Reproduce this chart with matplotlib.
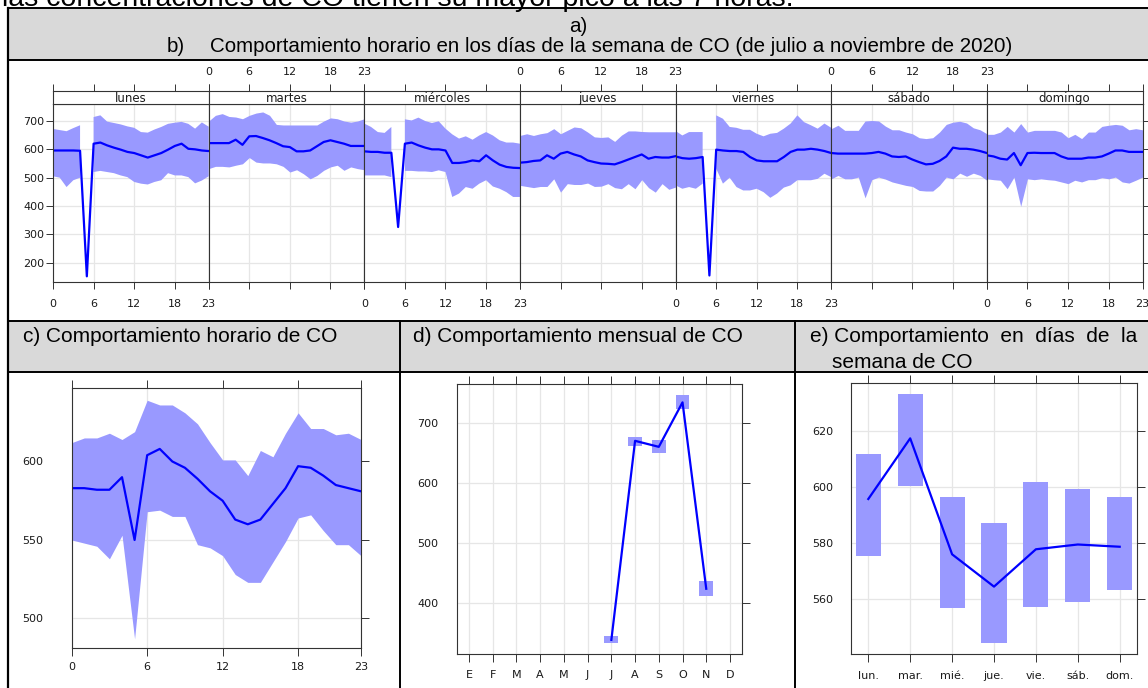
import numpy as np
import matplotlib
matplotlib.use('Agg')
from matplotlib import pyplot as plt
from matplotlib.patches import Rectangle

# figure size in pixels
W, H = 1148, 688
plt.rcParams['font.family'] = ['Liberation Sans', 'DejaVu Sans']

# ---- data ----
horas = list(range(24))
nan = np.nan

# b) hourly CO per weekday: mean, upper and lower band
lun_mean = [596, 596, 596, 596, 595, 152, 620, 624, 614, 606, 599, 591, 587, 579, 571, 579, 587, 599, 612, 620, 602, 600, 596, 594]
lun_hi = [672, 668, 664, 675, 685, nan, 714, 720, 698, 693, 688, 681, 676, 661, 659, 670, 679, 690, 694, 697, 690, 673, 695, 680]
lun_lo = [505, 500, 467, 491, 500, nan, 520, 524, 520, 516, 508, 502, 485, 479, 476, 485, 491, 516, 508, 508, 502, 480, 490, 505]

mar_mean = [622, 622, 622, 622, 634, 616, 646, 647, 640, 632, 622, 611, 608, 593, 593, 596, 611, 626, 632, 626, 620, 612, 612, 612]
mar_hi = [700, 720, 726, 716, 714, 708, 720, 728, 732, 720, 688, 686, 686, 686, 686, 686, 686, 700, 711, 708, 700, 696, 700, 708]
mar_lo = [532, 540, 540, 538, 544, 549, 571, 555, 552, 552, 549, 540, 520, 528, 514, 496, 508, 526, 538, 544, 526, 538, 532, 528]

mie_mean = [593, 591, 591, 588, 588, 326, 620, 624, 614, 606, 600, 600, 596, 552, 552, 555, 561, 558, 579, 561, 546, 538, 535, 534]
mie_hi = [691, 679, 661, 658, 679, nan, 706, 702, 712, 700, 693, 699, 673, 653, 638, 646, 634, 649, 661, 649, 632, 624, 624, 620]
mie_lo = [508, 508, 508, 508, 502, nan, 524, 524, 522, 522, 520, 526, 520, 432, 444, 467, 461, 479, 491, 469, 461, 449, 432, 432]

jue_mean = [553, 555, 559, 561, 579, 567, 585, 591, 582, 575, 561, 555, 550, 549, 547, 555, 564, 573, 582, 567, 573, 571, 571, 576]
jue_hi = [649, 655, 649, 655, 659, 673, 655, 667, 679, 676, 661, 644, 642, 644, 628, 650, 665, 665, 663, 662, 662, 662, 662, 662]
jue_lo = [473, 469, 465, 469, 469, 496, 449, 479, 476, 476, 481, 469, 470, 479, 465, 461, 479, 461, 493, 465, 449, 479, 459, 467]

vie_mean = [575, 569, 567, 569, 573, 155, 599, 596, 594, 594, 591, 573, 561, 558, 558, 558, 573, 591, 599, 599, 602, 599, 594, 587]
vie_hi = [665, 649, 661, 661, 661, nan, 720, 708, 679, 676, 669, 669, 655, 646, 655, 658, 673, 691, 720, 696, 685, 673, 691, 676]
vie_lo = [473, 461, 467, 461, 479, nan, 532, 479, 500, 467, 455, 455, 461, 449, 429, 444, 465, 473, 491, 491, 491, 496, 514, 502]

sab_mean = [587, 585, 585, 585, 585, 585, 587, 591, 585, 575, 573, 575, 564, 555, 547, 549, 559, 575, 606, 602, 602, 599, 594, 587]
sab_hi = [673, 685, 667, 667, 667, 700, 702, 700, 682, 669, 669, 661, 655, 641, 638, 641, 661, 688, 696, 699, 693, 676, 669, 655]
sab_lo = [496, 508, 496, 496, 502, 429, 493, 502, 495, 485, 479, 473, 469, 455, 453, 453, 473, 502, 496, 516, 505, 516, 508, 491]

dom_mean = [579, 575, 567, 564, 587, 544, 587, 588, 587, 587, 587, 575, 567, 567, 567, 571, 571, 575, 585, 596, 596, 591, 591, 591]
dom_hi = [653, 653, 661, 681, 661, 691, 661, 667, 667, 667, 667, 661, 641, 653, 638, 661, 661, 681, 685, 688, 685, 669, 673, 669]
dom_lo = [496, 493, 491, 461, 502, 399, 496, 493, 496, 493, 491, 485, 479, 491, 485, 493, 493, 500, 496, 502, 485, 481, 491, 502]

dias = ['lunes', 'martes', 'miércoles', 'jueves', 'viernes', 'sábado', 'domingo']

# c) hourly CO
hora_mean = [583, 583, 582, 582, 590, 550, 604, 608, 600, 596, 589, 581, 575, 563, 560, 563, 573, 583, 597, 596, 591, 585, 583, 581]
hora_hi = [612, 615, 615, 618, 614, 619, 639, 636, 636, 631, 624, 612, 601, 601, 591, 607, 603, 618, 631, 621, 621, 617, 618, 614]
hora_lo = [550, 548, 546, 538, 553, 487, 568, 569, 565, 565, 547, 545, 540, 528, 523, 523, 536, 549, 564, 566, 556, 547, 547, 540]

# d) monthly CO (julio..noviembre)
meses = ['E', 'F', 'M', 'A', 'M', 'J', 'J', 'A', 'S', 'O', 'N', 'D']
mes_num = [7, 8, 9, 10, 11]
mes_mean = [339, 670, 660, 734, 424]
mes_hi = [346, 677, 671, 746, 437]
mes_lo = [333, 662, 649, 723, 412]

# e) weekday CO
dias_corto = ['lun.', 'mar.', 'mié.', 'jue.', 'vie.', 'sáb.', 'dom.']
sem_mean = [595.7, 617.3, 576.0, 564.5, 577.8, 579.5, 578.7]
sem_hi = [611.6, 633.0, 596.3, 587.3, 601.9, 599.4, 596.3]
sem_lo = [575.5, 600.3, 556.8, 544.3, 557.1, 558.9, 563.3]

# ---- style ----
fill_col = '#9999ff'
line_col = '#0000ff'
grid_col = '#e6e6e6'
frame_col = '#333333'
tick_col = '#1a1a1a'
head_col = '#d9d9d9'
tick_font = 'DejaVu Sans'


def box(x0, y0, x1, y1):
    # pixel box (top-left origin) -> figure fraction
    return [x0 / W, 1 - y1 / H, (x1 - x0) / W, (y1 - y0) / H]


def frame(ax, lw=0.8):
    for s in ax.spines.values():
        s.set_color(frame_col)
        s.set_linewidth(lw)


def tick_fonts(ax, size):
    for lab in ax.get_xticklabels() + ax.get_yticklabels():
        lab.set_fontfamily(tick_font)
        lab.set_fontsize(size)


fig = plt.figure(figsize=(W / 100, H / 100), dpi=100)

# background: table cells, borders and texts (pixel coordinates)
bg = fig.add_axes([0, 0, 1, 1])
bg.set_zorder(-1)
bg.set_xlim(0, W)
bg.set_ylim(H, 0)
bg.axis('off')
bg.add_patch(Rectangle((8, 8), W - 8, 52, fc=head_col, ec='none'))
bg.add_patch(Rectangle((8, 321), W - 8, 51, fc=head_col, ec='none'))
for yy in [8, 60, 321, 372]:
    bg.plot([8, W], [yy, yy], color='black', lw=1.4, solid_capstyle='butt')
bg.plot([8, 8], [8, H], color='black', lw=1.6)
bg.plot([400, 400], [321, H], color='black', lw=1.4)
bg.plot([795, 795], [321, H], color='black', lw=1.4)

bg.text(2, 5.7, 'las concentraciones de CO tienen su mayor pico a las 7 horas.',
        fontsize=20.5, va='baseline', ha='left')
bg.text(578, 27, 'a)', fontsize=14.8, ha='center', va='center')
bg.text(167, 46, 'b)', fontsize=14.8, ha='left', va='center')
bg.text(210, 46, 'Comportamiento horario en los días de la semana de CO (de julio a noviembre de 2020)',
        fontsize=14.8, ha='left', va='center')
bg.text(23, 342, 'c) Comportamiento horario de CO', fontsize=15, va='baseline')
bg.text(413, 342, 'd) Comportamiento mensual de CO', fontsize=15, va='baseline')
bg.text(810, 342, 'e) Comportamiento  en  días  de  la', fontsize=15, va='baseline')
bg.text(832, 367.5, 'semana de CO', fontsize=15, va='baseline')

# ---- b) one panel per weekday ----
b_mean = [lun_mean, mar_mean, mie_mean, jue_mean, vie_mean, sab_mean, dom_mean]
b_hi = [lun_hi, mar_hi, mie_hi, jue_hi, vie_hi, sab_hi, dom_hi]
b_lo = [lun_lo, mar_lo, mie_lo, jue_lo, vie_lo, sab_lo, dom_lo]
xb0, xb1 = 53, 1142.5
dw = (xb1 - xb0) / 7
for i in range(7):
    left, right = xb0 + i * dw, xb0 + (i + 1) * dw
    ax = fig.add_axes(box(left, 104, right, 282))
    ax.fill_between(horas, b_lo[i], b_hi[i], color=fill_col, lw=0)
    ax.plot(horas, b_mean[i], color=line_col, lw=1.6)
    ax.set_xlim(0, 23)
    ax.set_ylim(132, 760)
    ax.set_xticks([0, 6, 12, 18, 23])
    ax.set_yticks(range(200, 800, 100))
    ax.grid(color=grid_col, lw=0.9)
    ax.set_axisbelow(True)
    frame(ax)
    ax.tick_params(axis='x', direction='out', length=5, width=0.7, color=frame_col,
                   labelcolor=tick_col, pad=7.5, labelbottom=(i % 2 == 0))
    ax.tick_params(axis='y', direction='out', length=5, width=0.7, color=frame_col,
                   labelcolor=tick_col, pad=1,
                   left=(i == 0), labelleft=(i == 0), right=(i == 6))
    tick_fonts(ax, 8)
    # strip with day name
    st = fig.add_axes(box(left, 91, right, 104))
    st.set_xlim(0, 23)
    st.set_yticks([])
    st.set_xticks([0, 6, 12, 18, 23])
    st.xaxis.set_ticks_position('top')
    st.tick_params(axis='x', direction='out', length=5, width=0.7, color=frame_col,
                   labelcolor=tick_col, pad=5,
                   labeltop=(i % 2 == 1), bottom=False, labelbottom=False)
    tick_fonts(st, 8)
    frame(st)
    st.text(0.5, 0.42, dias[i], transform=st.transAxes, ha='center', va='center',
            fontsize=8.5, family=tick_font, color=tick_col)


def lattice_ticks(ax, pad_y, pad_x, size):
    frame(ax)
    ax.grid(color=grid_col, lw=0.9)
    ax.set_axisbelow(True)
    ax.tick_params(axis='both', direction='out', length=6, width=0.7, color=frame_col,
                   labelcolor=tick_col, top=True, right=True)
    ax.tick_params(axis='y', left=False, pad=pad_y)
    ax.tick_params(axis='x', pad=pad_x)
    tick_fonts(ax, size)


# ---- c) hourly ----
axc = fig.add_axes(box(71.7, 387.7, 361, 648.3))
axc.fill_between(horas, hora_lo, hora_hi, color=fill_col, lw=0)
axc.plot(horas, hora_mean, color=line_col, lw=1.6)
axc.set_xlim(0, 23)
axc.set_ylim(481, 647)
axc.set_xticks([0, 6, 12, 18, 23])
axc.set_yticks([500, 550, 600])
lattice_ticks(axc, 14.7, 3.6, 8)

# ---- d) monthly ----
axd = fig.add_axes(box(456.7, 384.3, 742.3, 654.3))
for m, lo, hi in zip(mes_num, mes_lo, mes_hi):
    axd.add_patch(Rectangle((m - 0.29, lo), 0.58, hi - lo, fc=fill_col, ec='none'))
axd.plot(mes_num, mes_mean, color=line_col, lw=1.6)
axd.set_xlim(0.48, 12.52)
axd.set_ylim(315, 764)
axd.set_xticks(range(1, 13))
axd.set_xticklabels(meses)
axd.set_yticks([400, 500, 600, 700])
lattice_ticks(axd, 7.2, 5.3, 8)

# ---- e) weekday ----
axe = fig.add_axes(box(850.7, 383.3, 1137.3, 654.3))
pos = np.arange(1, 8)
for p, lo, hi in zip(pos, sem_lo, sem_hi):
    axe.add_patch(Rectangle((p - 0.3, lo), 0.6, hi - lo, fc=fill_col, ec='none'))
axe.plot(pos, sem_mean, color=line_col, lw=1.6)
axe.set_xlim(0.58, 7.42)
axe.set_ylim(540.4, 636.9)
axe.set_xticks(pos)
axe.set_xticklabels(dias_corto)
axe.set_yticks([560, 580, 600, 620])
lattice_ticks(axe, 6.5, 6, 8)

fig.savefig('out.png', dpi=100)
